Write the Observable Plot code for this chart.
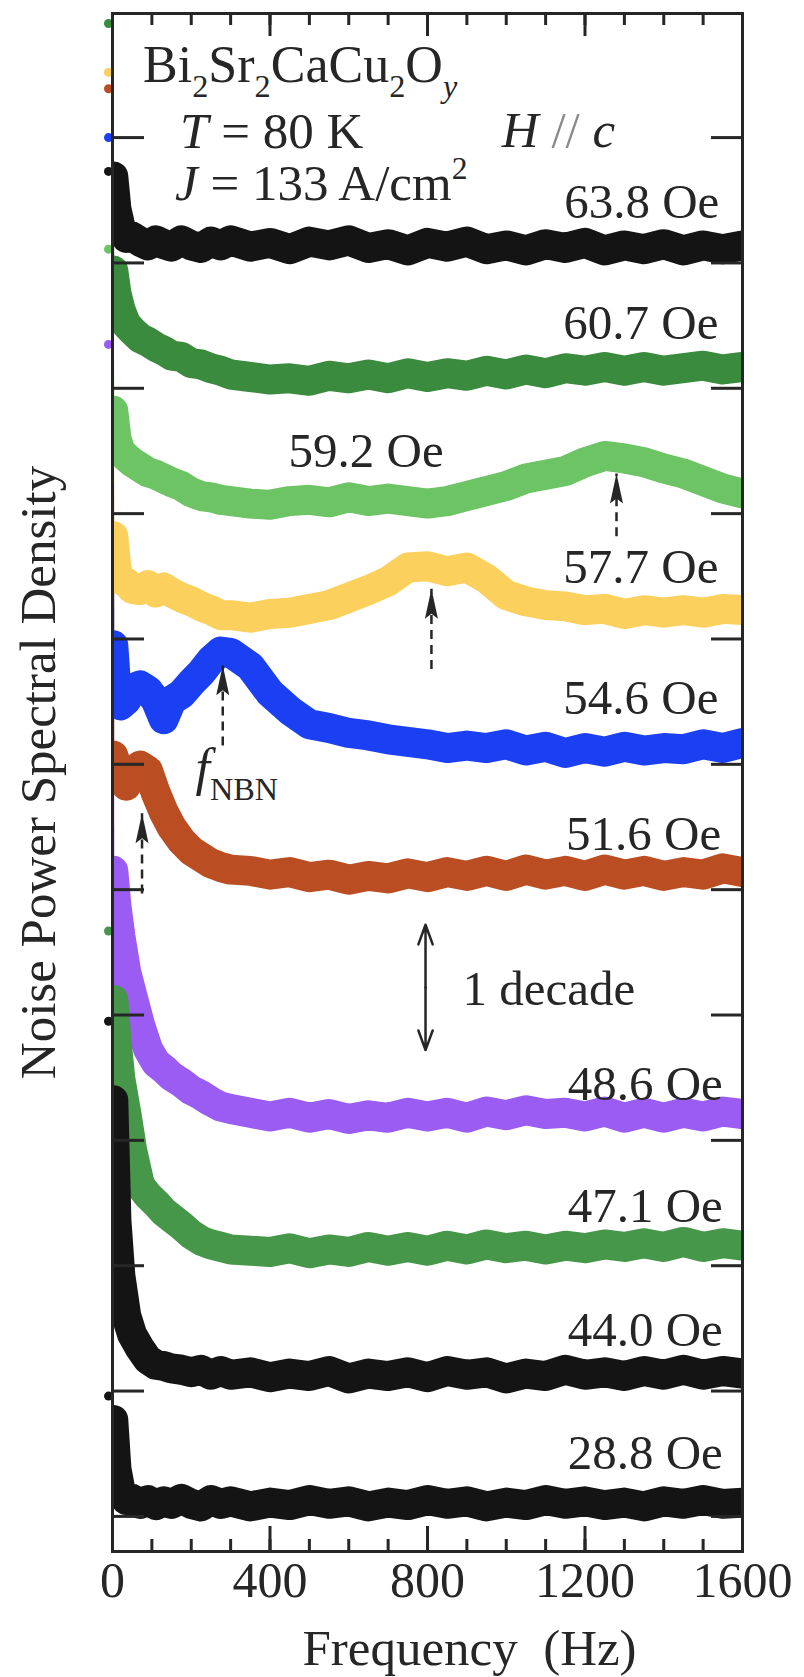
<!DOCTYPE html>
<html>
<head>
<meta charset="utf-8">
<script src="https://cdn.jsdelivr.net/npm/d3@7"></script>
<script src="https://cdn.jsdelivr.net/npm/@observablehq/plot@0.6"></script>
<style>
  html, body { margin: 0; padding: 0; background: #fff; }
  #chart svg { display: block; }
</style>
</head>
<body>
<div id="chart"></div>
<script>
// Frequency grid (Hz) shared by every spectrum
const freq = [2, 10, 20, 35, 50, 70, 90, 110, 130, 150, 175, 200, 225, 250, 275, 300,
  350, 400, 450, 500, 550, 600, 650, 700, 750, 800, 850, 900, 950, 1000, 1050, 1100,
  1150, 1200, 1250, 1300, 1350, 1400, 1450, 1500, 1550, 1600];

// Applied fields, top trace first
const fields = ["63.8 Oe", "60.7 Oe", "59.2 Oe", "57.7 Oe", "54.6 Oe", "51.6 Oe", "48.6 Oe", "47.1 Oe", "44.0 Oe", "28.8 Oe"];
const colors = ["#141414", "#3b8b3f", "#6dc464", "#fcd05c", "#1b3ff2", "#bb4d22", "#9a5cf2", "#47974a", "#141414", "#141414"];

// log10 of the noise power, in decades (traces shifted vertically for clarity)
const s638 = [10.69, 10.43, 10.29, 10.20, 10.21, 10.17, 10.14, 10.18, 10.15, 10.13, 10.18, 10.14, 10.12, 10.17, 10.14, 10.18,
  10.13, 10.16, 10.11, 10.17, 10.14, 10.18, 10.12, 10.15, 10.10, 10.16, 10.13, 10.17, 10.11, 10.14, 10.10, 10.15,
  10.12, 10.16, 10.10, 10.14, 10.11, 10.15, 10.10, 10.14, 10.11, 10.14];
const s607 = [9.94, 9.76, 9.63, 9.51, 9.46, 9.40, 9.37, 9.33, 9.30, 9.26, 9.25, 9.20, 9.19, 9.16, 9.14, 9.11,
  9.09, 9.07, 9.08, 9.06, 9.10, 9.08, 9.11, 9.08, 9.12, 9.09, 9.12, 9.10, 9.14, 9.11, 9.15, 9.12,
  9.16, 9.14, 9.17, 9.14, 9.17, 9.14, 9.16, 9.18, 9.15, 9.17];
const s592 = [8.82, 8.60, 8.50, 8.45, 8.41, 8.37, 8.33, 8.31, 8.28, 8.25, 8.22, 8.17, 8.14, 8.13, 8.11, 8.10,
  8.08, 8.07, 8.10, 8.11, 8.09, 8.13, 8.10, 8.12, 8.10, 8.08, 8.10, 8.14, 8.18, 8.22, 8.28, 8.31,
  8.34, 8.41, 8.46, 8.44, 8.41, 8.36, 8.32, 8.26, 8.20, 8.16];
const s577 = [7.82, 7.56, 7.47, 7.45, 7.40, 7.39, 7.43, 7.37, 7.41, 7.37, 7.33, 7.30, 7.26, 7.23, 7.19, 7.19,
  7.17, 7.20, 7.21, 7.24, 7.27, 7.33, 7.39, 7.46, 7.57, 7.58, 7.54, 7.57, 7.48, 7.35, 7.30, 7.27,
  7.26, 7.23, 7.24, 7.20, 7.23, 7.21, 7.23, 7.21, 7.24, 7.23];
const s546 = [6.95, 6.59, 6.47, 6.51, 6.60, 6.63, 6.59, 6.51, 6.36, 6.51, 6.56, 6.65, 6.73, 6.83, 6.90, 6.89,
  6.78, 6.57, 6.43, 6.32, 6.29, 6.25, 6.23, 6.20, 6.18, 6.16, 6.13, 6.15, 6.13, 6.16, 6.11, 6.14,
  6.09, 6.13, 6.10, 6.14, 6.11, 6.13, 6.12, 6.16, 6.13, 6.17];
const s516 = [6.07, 5.99, 5.89, 5.83, 5.93, 5.99, 5.95, 5.77, 5.62, 5.50, 5.39, 5.31, 5.26, 5.21, 5.18, 5.16,
  5.15, 5.12, 5.14, 5.10, 5.12, 5.08, 5.11, 5.09, 5.13, 5.10, 5.14, 5.11, 5.15, 5.11, 5.16, 5.12,
  5.15, 5.11, 5.16, 5.12, 5.15, 5.11, 5.14, 5.12, 5.17, 5.14];
const s486 = [5.15, 4.87, 4.63, 4.34, 4.16, 3.92, 3.73, 3.62, 3.57, 3.51, 3.46, 3.40, 3.36, 3.31, 3.27, 3.25,
  3.22, 3.19, 3.22, 3.18, 3.21, 3.17, 3.20, 3.18, 3.22, 3.19, 3.22, 3.18, 3.23, 3.20, 3.24, 3.21,
  3.22, 3.19, 3.23, 3.18, 3.22, 3.18, 3.22, 3.19, 3.23, 3.21];
const s471 = [4.12, 3.80, 3.49, 3.22, 2.92, 2.64, 2.56, 2.50, 2.43, 2.38, 2.32, 2.25, 2.20, 2.17, 2.15, 2.13,
  2.12, 2.11, 2.14, 2.10, 2.13, 2.11, 2.15, 2.12, 2.15, 2.12, 2.16, 2.13, 2.17, 2.14, 2.16, 2.13,
  2.16, 2.14, 2.17, 2.15, 2.18, 2.15, 2.19, 2.15, 2.18, 2.16];
const s440 = [3.32, 2.36, 1.92, 1.60, 1.45, 1.34, 1.25, 1.21, 1.20, 1.18, 1.17, 1.15, 1.17, 1.13, 1.16, 1.13,
  1.15, 1.11, 1.14, 1.12, 1.16, 1.10, 1.14, 1.12, 1.15, 1.11, 1.16, 1.13, 1.15, 1.10, 1.14, 1.12,
  1.17, 1.13, 1.15, 1.12, 1.16, 1.13, 1.17, 1.13, 1.16, 1.14];
const s288 = [0.77, 0.38, 0.21, 0.13, 0.14, 0.10, 0.13, 0.09, 0.12, 0.10, 0.14, 0.10, 0.08, 0.13, 0.10, 0.12,
  0.08, 0.11, 0.09, 0.13, 0.10, 0.12, 0.08, 0.11, 0.09, 0.13, 0.10, 0.12, 0.08, 0.11, 0.09, 0.13,
  0.10, 0.12, 0.09, 0.11, 0.08, 0.12, 0.10, 0.13, 0.10, 0.11];
const spectra = [s638, s607, s592, s577, s546, s516, s486, s471, s440, s288];

// Level of the f = 0 bin of each spectrum
const dcLevel = [10.73, 11.91, 10.11, 11.52, 11.00, 11.39, 9.35, 4.67, 3.95, 0.96];

// Narrow-band-noise peaks marked with arrows
const peakField = ["59.2 Oe", "57.7 Oe", "54.6 Oe", "51.6 Oe"];
const peakFreq = [1280, 810, 280, 75];

// Axis ticks
const xMajor = [0, 400, 800, 1200, 1600];
const xMinor = d3.range(0, 1601, 100);
const yTicks = d3.range(0, 12);

// ---- layout (not data) ----
const ink = "#262626";
const serif = "'Liberation Serif', 'Times New Roman', Times, serif";
const labelAt = [ // where each field label sits: [frequency, level, anchor]
  [1541, 10.36, "end"], [1539, 9.39, "end"], [447, 8.37, "start"], [1539, 7.45, "end"], [1539, 6.40, "end"],
  [1546, 5.32, "end"], [1550, 3.32, "end"], [1550, 2.35, "end"], [1550, 1.36, "end"], [1550, 0.38, "end"]
];
const arrowTip = [8.32, 7.40, 6.79, 5.61];
const arrowTail = [7.82, 6.76, 6.15, 4.97];
const decade = {f: 795, lo: 3.72, hi: 4.72};

const rows = fields.flatMap((field, i) => freq.map((f, j) => ({field, f, v: spectra[i][j]})));
const dcRows = fields.map((field, i) => ({field, f: 0, v: dcLevel[i], f1: freq[0], v1: spectra[i][0]}));
const labels = fields.map((field, i) => ({field, f: labelAt[i][0], v: labelAt[i][1], anchor: labelAt[i][2]}));
const arrows = peakField.map((field, i) => ({field, f: peakFreq[i], tip: arrowTip[i], tail: arrowTail[i]}));
const decadeRows = [
  {f: decade.f, y1: (decade.lo + decade.hi) / 2, y2: decade.hi},
  {f: decade.f, y1: (decade.lo + decade.hi) / 2, y2: decade.lo}
];

// Filled, slightly barbed arrowhead with its tip at the anchor point
const arrowHead = {
  draw(ctx) {
    ctx.moveTo(0, 0);
    ctx.lineTo(6.5, 30);
    ctx.lineTo(0, 25);
    ctx.lineTo(-6.5, 30);
    ctx.closePath();
  }
};

const chart = Plot.plot({
  width: 804,
  height: 1677,
  marginLeft: 112,
  marginRight: 62,
  marginTop: 13,
  marginBottom: 126,
  style: {fontFamily: serif, background: "#fff", color: ink},
  x: {domain: [0, 1600]},
  y: {domain: [-0.28, 11.99]},
  color: {domain: fields, range: colors},
  marks: [
    // spectra
    Plot.link(dcRows, {x1: "f", y1: "v", x2: "f1", y2: "v1", stroke: "field", strokeWidth: 2, clip: true}),
    Plot.line(rows, {x: "f", y: "v", z: "field", stroke: "field", strokeWidth: 30, strokeLinejoin: "round", clip: true}),
    Plot.dot(dcRows, {x: "f", y: "v", fill: "field", r: 4.5, dx: -4}),

    // field labels
    Plot.text(labels.filter(d => d.anchor === "end"), {x: "f", y: "v", text: "field", textAnchor: "end", lineAnchor: "bottom", fontSize: 49, fill: ink}),
    Plot.text(labels.filter(d => d.anchor === "start"), {x: "f", y: "v", text: "field", textAnchor: "start", lineAnchor: "bottom", fontSize: 49, fill: ink}),

    // peak arrows
    Plot.link(arrows, {x1: "f", x2: "f", y1: "tail", y2: "tip", stroke: ink, strokeWidth: 2.5, strokeDasharray: "9,6"}),
    Plot.dot(arrows, {x: "f", y: "tip", symbol: arrowHead, fill: ink, stroke: "none"}),

    // one-decade scale bar
    Plot.arrow(decadeRows, {x1: "f", x2: "f", y1: "y1", y2: "y2", stroke: ink, strokeWidth: 2.5, headLength: 16, headAngle: 40}),
    Plot.text([decade], {x: () => 889, y: () => 4.08, text: () => "1 decade", textAnchor: "start", lineAnchor: "bottom", fontSize: 49, fill: ink}),

    // axes: inward ticks on all four sides, labels only on the bottom
    Plot.axisX({anchor: "bottom", ticks: xMinor, tickSize: -12, tickFormat: () => "", strokeWidth: 3, label: null}),
    Plot.axisX({anchor: "bottom", ticks: xMajor, tickSize: -25, tickFormat: () => "", strokeWidth: 3, label: null}),
    Plot.axisX({anchor: "bottom", ticks: xMajor, tickSize: 0, tickPadding: 10, tickFormat: d => String(d), fontSize: 50, label: null}),
    Plot.axisX({anchor: "top", ticks: xMinor, tickSize: -11, tickFormat: () => "", strokeWidth: 3, label: null}),
    Plot.axisX({anchor: "top", ticks: xMajor, tickSize: -22, tickFormat: () => "", strokeWidth: 3, label: null}),
    Plot.axisY({anchor: "left", ticks: yTicks, tickSize: -32, tickFormat: () => "", strokeWidth: 3, label: null}),
    Plot.axisY({anchor: "right", ticks: yTicks, tickSize: -32, tickFormat: () => "", strokeWidth: 3, label: null}),
    Plot.frame({stroke: ink, strokeWidth: 3}),

    // axis titles
    Plot.text([0], {frameAnchor: "left", text: () => "Noise Power Spectral Density", rotate: -90, textAnchor: "middle", lineAnchor: "middle", dx: -74, dy: -10, fontSize: 51, fill: ink}),
    Plot.text([0], {frameAnchor: "bottom", text: () => "Frequency\u00a0\u00a0(Hz)", textAnchor: "middle", lineAnchor: "bottom", dx: 42, dy: 113, fontSize: 51, fill: ink})
  ]
});

document.getElementById("chart").append(chart);

// Annotations that need sub/superscripts, placed through the plot's scales
const sx = chart.scale("x"), sy = chart.scale("y");
const note = d3.select(chart).append("g")
  .attr("fill", ink)
  .attr("font-family", serif)
  .attr("text-anchor", "start")
  .style("white-space", "pre");
function richText(parts, f, v, size) {
  const t = note.append("text").attr("x", sx.apply(f)).attr("y", sy.apply(v)).attr("font-size", size);
  let shift = 0;
  for (const p of parts) {
    const ts = t.append("tspan").text(p.t);
    const target = p.sub ? size * 0.28 : p.sup ? -size * 0.4 : 0;
    if (target !== shift) { ts.attr("dy", target - shift); shift = target; }
    if (p.sub || p.sup) ts.attr("font-size", size * (p.small || 0.62));
    if (p.it) ts.attr("font-style", "italic");
    if (p.fill) ts.attr("fill", p.fill);
  }
}
richText([{t: "Bi"}, {t: "2", sub: 1}, {t: "Sr"}, {t: "2", sub: 1}, {t: "CaCu"}, {t: "2", sub: 1}, {t: "O"}, {t: "y", sub: 1, it: 1}], 79, 11.44, 52);
richText([{t: "T", it: 1}, {t: " = 80 K"}], 173, 10.91, 51);
richText([{t: "J", it: 1}, {t: " = 133 A/cm"}, {t: "2", sup: 1}], 160, 10.50, 51);
richText([{t: "H", it: 1}, {t: " // ", fill: "#8a8a8a"}, {t: "c", it: 1}], 990, 10.92, 51);
richText([{t: "f", it: 1}, {t: "NBN", sub: 1, small: 0.62}], 212, 5.83, 52);
</script>
</body>
</html>
